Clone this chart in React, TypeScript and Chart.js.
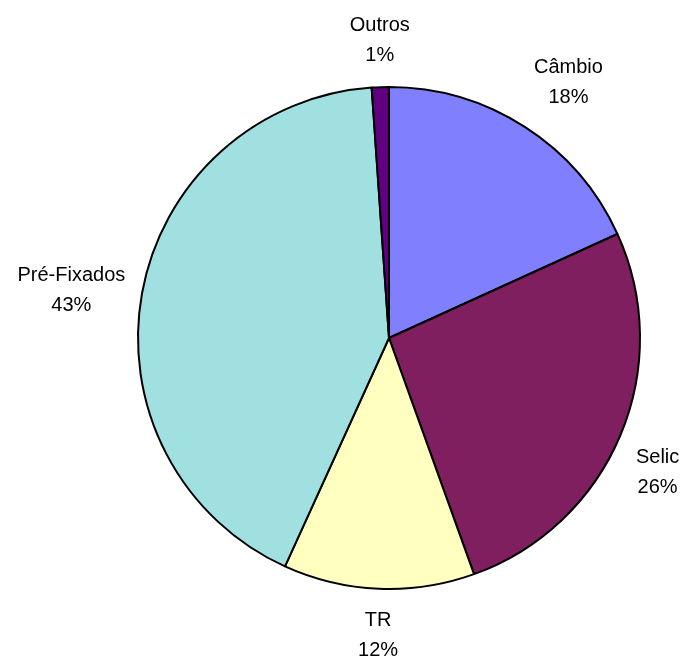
import React, { useEffect, useRef } from "react";
import { Chart, registerables } from "chart.js";

Chart.register(...registerables);

const categories = ["Câmbio", "Selic", "TR", "Pré-Fixados", "Outros"];
const values = [18.2, 26.3, 12.3, 42.1, 1.1];
const percentLabels = ["18%", "26%", "12%", "43%", "1%"];
const colors = ["#8080FF", "#7F1F5F", "#FFFFC0", "#A0E0E0", "#600080"];

const side = (v: number) => (Math.abs(v) < 0.25 ? 0 : Math.sign(v));

const labelPlugin = {
  id: "outsideLabels",
  afterDraw(chart: any) {
    const ctx = chart.ctx;
    const meta = chart.getDatasetMeta(0);
    ctx.save();
    ctx.font = '20px "Liberation Sans", Arial, sans-serif';
    ctx.fillStyle = "#000";
    ctx.textAlign = "center";
    ctx.textBaseline = "middle";
    const lineH = 30;
    meta.data.forEach((arc: any, i: number) => {
      const p = arc.getProps(["x", "y", "startAngle", "endAngle", "outerRadius"], true);
      const mid = (p.startAngle + p.endAngle) / 2;
      const c = Math.cos(mid);
      const s = Math.sin(mid);
      const lines = [categories[i], percentLabels[i]];
      const w = Math.max(...lines.map((t) => ctx.measureText(t).width));
      const h = lineH * 2;
      const d = 17;
      const ax = p.x + (p.outerRadius + d) * c;
      const ay = p.y + (p.outerRadius + d) * s;
      const bx = ax + (w / 2) * side(c);
      const by = ay + (h / 2) * side(s);
      ctx.fillText(lines[0], bx, by - lineH / 2);
      ctx.fillText(lines[1], bx, by + lineH / 2);
    });
    ctx.restore();
  },
};

export default function App() {
  const ref = useRef<HTMLCanvasElement>(null);
  useEffect(() => {
    document.body.style.margin = "0";
    const chart = new Chart(ref.current!, {
      type: "pie",
      data: {
        labels: categories,
        datasets: [
          {
            data: values,
            backgroundColor: colors,
            borderColor: "#000",
            borderWidth: 2,
          },
        ],
      },
      options: {
        animation: false,
        responsive: false,
        maintainAspectRatio: false,
        layout: { padding: { left: 137, right: 44, top: 85, bottom: 65 } },
        plugins: {
          legend: { display: false },
          tooltip: { enabled: false },
        },
      },
      plugins: [labelPlugin],
    });
    return () => chart.destroy();
  }, []);
  return (
    <div style={{ width: 685, height: 656, background: "#fff" }}>
      <canvas ref={ref} width={685} height={656} style={{ display: "block" }} />
    </div>
  );
}
